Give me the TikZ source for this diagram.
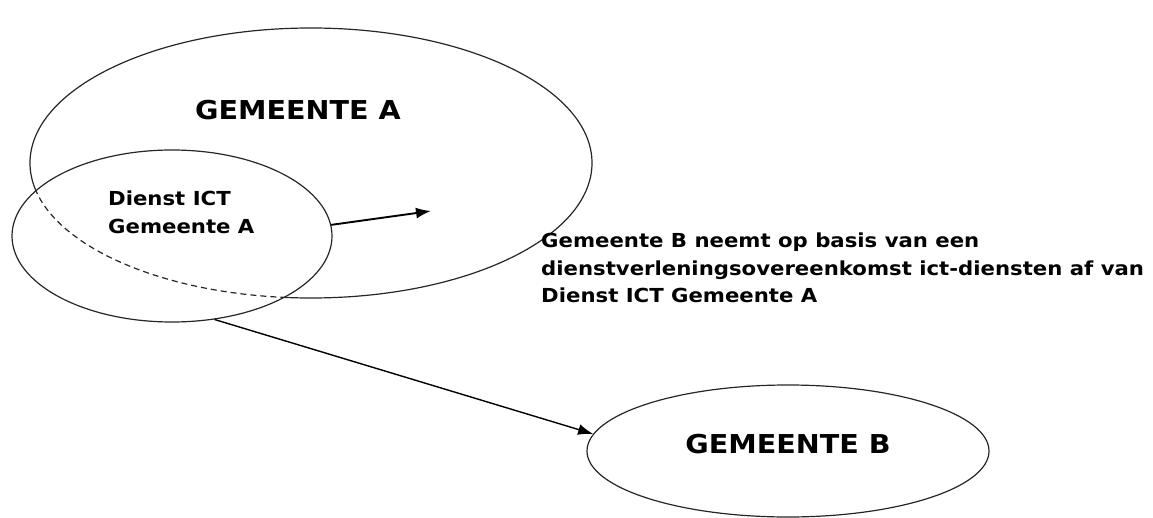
\documentclass[tikz,border=0pt]{standalone}
\usepackage{fontspec}
\newfontfamily\lblfont[FakeStretch=1.1]{DejaVu Sans}
\usetikzlibrary{shapes.geometric,arrows.meta}
\tikzset{
  ell/.style={ellipse, draw=black!85, line width=1.2pt, inner sep=0pt},
  bigtxt/.style={font=\lblfont\bfseries\fontsize{26}{30}\selectfont, inner sep=0pt},
  smalltxt/.style={font=\lblfont\bfseries\fontsize{19.3}{27.5}\selectfont, inner sep=0pt, align=left},
  arr/.style={-{Latex[length=15pt,width=11pt]}, black}
}
\begin{document}
\begin{tikzpicture}[x=1pt,y=-1pt]
\useasboundingbox (0,0) rectangle (1153,518);
% Gemeente A
\node[ell, minimum width=562pt, minimum height=270pt] (A) at (311,163) {};
\begin{scope}
  \clip (172,236) ellipse [x radius=160pt, y radius=86pt];
  \draw[white, line width=3pt] (311,163) ellipse [x radius=281pt, y radius=135pt];
  \draw[black!85, line width=1.2pt, dash pattern=on 6pt off 4pt] (311,163) ellipse [x radius=281pt, y radius=135pt];
\end{scope}
% Dienst ICT
\node[ell, minimum width=320pt, minimum height=172pt] (S) at (172,236) {};
% Gemeente B
\node[ell, minimum width=402pt, minimum height=132pt] (B) at (788,451) {};
% labels
\node[bigtxt] (lA) at (298,110) {GEMEENTE A};
\node[bigtxt] (lB) at (788,444) {GEMEENTE B};
\node[smalltxt, anchor=north west] (lS) at (108,191) {Dienst ICT\\Gemeente A};
\node[smalltxt, anchor=north west] (lT) at (541,233) {Gemeente B neemt op basis van een\\dienstverleningsovereenkomst ict-diensten af van\\Dienst ICT Gemeente A};
% arrows
\coordinate (tip) at (431,211);
\draw[arr, line width=1.9pt] (S.4) -- (tip);
\draw[arr, line width=1.4pt] (S.-63) -- (B.175);
\end{tikzpicture}
\end{document}
